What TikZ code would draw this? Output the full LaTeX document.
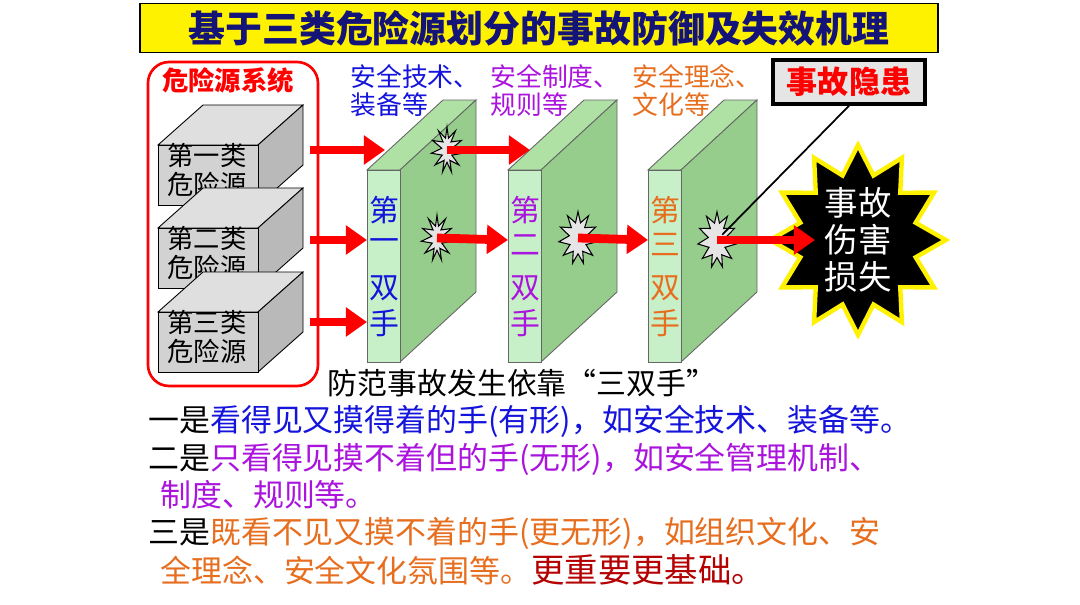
\documentclass[tikz,border=0pt]{standalone}
\usepackage{fontspec}
\setmainfont{Noto Sans CJK SC}
\usetikzlibrary{shapes.symbols,arrows.meta}
\definecolor{ttl}{RGB}{20,20,120}
\definecolor{ublue}{RGB}{20,20,220}
\definecolor{upurp}{RGB}{170,20,220}
\definecolor{uorange}{RGB}{230,110,30}
\definecolor{wfront}{RGB}{200,240,200}
\definecolor{wside}{RGB}{150,205,140}
\definecolor{wtop}{RGB}{175,225,165}
\definecolor{dred}{RGB}{180,0,0}
\newcommand{\fs}[1]{\fontsize{#1}{1.1\dimexpr#1\relax}\selectfont}
\tikzset{
 redarrow/.style={draw=red,line width=5pt,-{Triangle[length=12pt,width=16pt]}},
 hole/.style={starburst,starburst points=11,starburst point height=6pt,random starburst=0,draw=black,fill=gray!20,line width=0.6pt,minimum width=18pt,minimum height=26pt,inner sep=0pt},
 wallch/.style={font=\fs{17pt},inner sep=0pt},
 lbl/.style={font=\fs{14.7pt},align=left,anchor=north west,inner sep=0pt},
 body/.style={font=\fs{17.6pt},anchor=west,inner sep=0pt}
}
\begin{document}
\begin{tikzpicture}[x=0.02cm,y=-0.02cm]
\useasboundingbox (0,0) rectangle (1080,605);
\fill[white] (0,0) rectangle (1080,605);
% title
\node[draw=black,line width=0.8pt,fill=yellow,minimum width=798*0.02cm,minimum height=49*0.02cm,inner sep=0pt,font=\fs{21pt}\bfseries,text=ttl] (title) at (539,28) {基于三类危险源划分的事故防御及失效机理};
% system box
\draw[red,line width=1.5pt,rounded corners=12pt] (148,62) rectangle (318,386);
\node[text=red,font=\fs{15pt}\bfseries] (sys) at (228,80) {危险源系统};
% hazard boxes
\foreach \y/\t [count=\i] in {145/第一类,228/第二类,312/第三类}{
  \fill[gray!25,draw=black,line width=0.5pt] (158,\y) -- (203,\y-40) -- (303,\y-40) -- (258,\y) -- cycle;
  \fill[gray!55,draw=black,line width=0.5pt] (258,\y) -- (303,\y-40) -- (303,\y+20) -- (258,\y+60) -- cycle;
  \node[fill=gray!35,draw=black,line width=0.5pt,minimum width=100*0.02cm,minimum height=60*0.02cm,anchor=north west,inner sep=0pt] (h\i) at (158,\y) {};
  \node[align=center,inner sep=0pt,font=\fontsize{15pt}{16pt}\selectfont] (ht\i) at (207,\y+25) {\t\\危险源};
}
% walls
\foreach \x/\c/\n [count=\i] in {367/ublue/一,508/upurp/二,648/uorange/三}{
  \fill[wtop,draw=black!60,line width=0.5pt] (\x,170) -- (\x+76,100) -- (\x+109,100) -- (\x+33,170) -- cycle;
  \fill[wside,draw=black!60,line width=0.5pt] (\x+33,170) -- (\x+109,100) -- (\x+109,292) -- (\x+33,362) -- cycle;
  \fill[wfront,draw=black!60,line width=0.5pt] (\x,170) rectangle (\x+33,362);
  \node[wallch,text=\c] (w\i a) at (\x+17,210) {第};
  \node[wallch,text=\c] (w\i b) at (\x+17,245) {\n};
  \node[wallch,text=\c] (w\i c) at (\x+17,288) {双};
  \node[wallch,text=\c] (w\i d) at (\x+17,323) {手};
}
% labels
\node[lbl,text=ublue] (l1) at (350,64) {安全技术、\\装备等};
\node[lbl,text=upurp] (l2) at (490,64) {安全制度、\\规则等};
\node[lbl,text=uorange] (l3) at (632,64) {安全理念、\\文化等};
% holes
\node[hole] (p1) at (447,150) {};
\node[hole] (p2) at (437,238) {};
\node[hole,minimum width=22pt,minimum height=30pt] (p3) at (578,238) {};
\node[hole,minimum width=22pt,minimum height=32pt] (p4) at (717,240) {};
% accident
\node[starburst,starburst points=12,starburst point height=16pt,random starburst=0,fill=black,draw=yellow,line width=2.5pt,minimum width=100pt,minimum height=108pt,inner sep=0pt] (acc) at (858,240) {};
\node[text=white,font=\fs{19pt},align=center] (acct) at (858,240) {事故\\伤害\\损失};
% hidden hazard
\node[draw=black,line width=2pt,fill=gray!20,minimum width=152*0.02cm,minimum height=44*0.02cm,inner sep=0pt,text=red,font=\fs{17.7pt}\bfseries] (yh) at (849,82) {事故隐患};
\draw[black,line width=1pt] (yh.south) -- ([xshift=3pt,yshift=3pt]p4.center);
% arrows
\coordinate (a1s) at (310,150); \coordinate (a1e) at (385,150);
\coordinate (a2s) at (310,240); \coordinate (a2e) at (367,240);
\coordinate (a3s) at (310,322); \coordinate (a3e) at (367,322);
\draw[redarrow] (a1s) -- (a1e);
\draw[redarrow] (a2s) -- (a2e);
\draw[redarrow] (a3s) -- (a3e);
\coordinate (b1e) at (530,150); \coordinate (b2e) at (508,240); \coordinate (b3e) at (648,240); \coordinate (b4e) at (815,240);
\draw[redarrow] (p1.center) -- (b1e);
\draw[redarrow] (p2.center) -- (b2e);
\draw[redarrow] (p3.center) -- (b3e);
\draw[redarrow] (p4.center) -- (b4e);
% bottom text
\node[font=\fs{17pt},inner sep=0pt] (cap) at (522,383) {防范事故发生依靠“三双手”};
\node[body] (t1) at (148,421) {一是\textcolor{ublue}{看得见又摸得着的手(有形)，如安全技术、装备等。}};
\node[body] (t2) at (148,459) {二是\textcolor{upurp}{只看得见摸不着但的手(无形)，如安全管理机制、}};
\node[body,text=upurp] (t3) at (160,495) {制度、规则等。};
\node[body] (t4) at (148,533) {三是\textcolor{uorange}{既看不见又摸不着的手(更无形)，如组织文化、安}};
\node[body] (t5) at (160,570) {\textcolor{uorange}{全理念、安全文化氛围等。}\textcolor{dred}{\fs{19pt}更重要更基础。}};
\end{tikzpicture}
\end{document}
